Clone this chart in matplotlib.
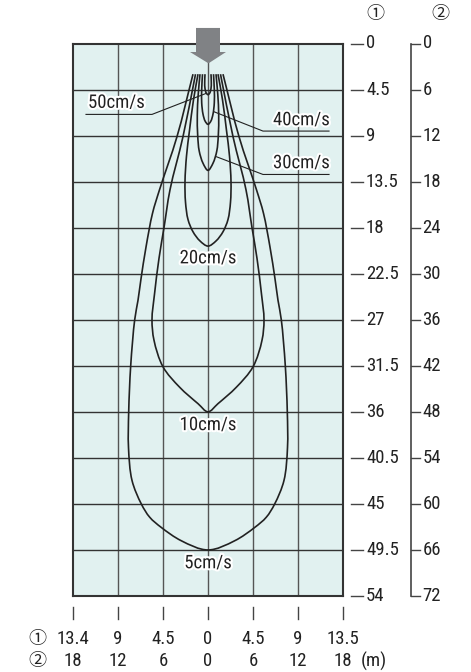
import numpy as np
import matplotlib
matplotlib.use('Agg')
import matplotlib.pyplot as plt
from matplotlib.path import Path
from matplotlib.patches import PathPatch, Polygon
import matplotlib.patheffects as pe

plt.rcParams['font.family'] = ['Roboto Condensed', 'Liberation Sans Narrow', 'Roboto', 'DejaVu Sans']

# Data (distance ① scale, metres): left half of each lobe as (half width, depth)
speeds = ['50cm/s', '40cm/s', '30cm/s', '20cm/s', '10cm/s', '5cm/s']
lobe_50 = [(0.3, 3.0), (0.33, 3.8), (0.3, 4.4), (0.17, 4.85), (0.0, 5.0)]
lobe_40 = [(0.55, 3.0), (0.63, 4.5), (0.63, 5.8), (0.5, 6.9), (0.28, 7.6), (0.0, 7.9)]
lobe_30 = [(0.8, 3.0), (0.98, 5.0), (1.07, 7.0), (1.03, 9.0), (0.88, 10.5), (0.5, 11.7), (0.0, 12.4)]
lobe_20 = [(1.0, 3.0), (1.45, 5.5), (1.85, 8.5), (2.15, 11.0), (2.3, 13.5), (2.25, 15.5),
           (2.0, 17.2), (1.5, 18.4), (0.8, 19.3), (0.0, 19.8)]
lobe_10 = [(1.25, 3.0), (2.5, 9.1), (3.8, 14.3), (4.4, 18.0), (4.9, 21.0), (5.35, 24.5),
           (5.6, 27.0), (5.4, 29.0), (4.5, 31.6), (2.83, 33.6), (1.0, 35.2), (0.0, 36.0)]
lobe_5 = [(1.5, 3.0), (3.1, 9.1), (4.85, 14.3), (5.55, 16.6), (6.2, 19.9), (6.7, 23.0),
          (7.0, 25.1), (7.33, 27.0), (7.73, 31.5), (7.93, 36.0), (7.95, 39.5), (7.6, 42.7),
          (6.67, 45.0), (5.83, 46.3), (4.67, 47.3), (2.67, 48.6), (0.0, 49.5)]
lobes = [lobe_50, lobe_40, lobe_30, lobe_20, lobe_10, lobe_5]

depth_1 = [0, 4.5, 9, 13.5, 18, 22.5, 27, 31.5, 36, 40.5, 45, 49.5, 54]
depth_1_labels = ['0', '4.5', '9', '13.5', '18', '22.5', '27', '31.5', '36', '40.5', '45', '49.5', '54']
depth_2_labels = ['0', '6', '12', '18', '24', '30', '36', '42', '48', '54', '60', '66', '72']
width_1 = [-13.5, -9, -4.5, 0, 4.5, 9, 13.5]
width_1_labels = ['13.4', '9', '4.5', '0', '4.5', '9', '13.5']
width_2_labels = ['18', '12', '6', '0', '6', '12', '18']

bg = '#e1f1f0'
ink = '#222222'
halo = [pe.withStroke(linewidth=3, foreground='white')]


def smoothPath(pts, a=0.5):
    # centripetal catmull-rom through the points, drawn as matplotlib cubic beziers
    pts = np.asarray(pts, float)
    ext = np.vstack([2 * pts[0] - pts[1], pts, 2 * pts[-1] - pts[-2]])
    verts = [pts[0]]
    codes = [Path.MOVETO]
    for i in range(1, len(ext) - 2):
        p0, p1, p2, p3 = ext[i - 1], ext[i], ext[i + 1], ext[i + 2]
        d1 = np.linalg.norm(p1 - p0) ** a
        d2 = np.linalg.norm(p2 - p1) ** a
        d3 = np.linalg.norm(p3 - p2) ** a
        b1 = (d1 ** 2 * p2 - d2 ** 2 * p0 + (2 * d1 ** 2 + 3 * d1 * d2 + d2 ** 2) * p1) / (3 * d1 * (d1 + d2))
        b2 = (d3 ** 2 * p1 - d2 ** 2 * p3 + (2 * d3 ** 2 + 3 * d3 * d2 + d2 ** 2) * p2) / (3 * d3 * (d3 + d2))
        verts += [b1, b2, p2]
        codes += [Path.CURVE4] * 3
    return Path(verts, codes)


fig = plt.figure(figsize=(4.71, 6.72), dpi=100)
ax = fig.add_axes([73 / 471, 1 - 596 / 672, 270 / 471, 552.5 / 672])
ax.set_xlim(-13.5, 13.5)
ax.set_ylim(54, 0)
ax.set_facecolor(bg)
ax.set_xticks([])
ax.set_yticks([])
for s in ax.spines.values():
    s.set_linewidth(1.5)
    s.set_color('#333333')

for x in width_1[1:-1]:
    ax.axvline(x, color='#555555', lw=1.0, zorder=1)
for y in depth_1[1:-1]:
    ax.axhline(y, color='#333333', lw=1.0, zorder=1)

for lobe in lobes:
    left = [(-w, d) for w, d in lobe]
    right = [(w, d) for w, d in lobe[::-1]][1:]
    ax.add_patch(PathPatch(smoothPath(left + right), fill=False, edgecolor=ink, lw=1.2, zorder=3))

# arrow on top of the sensor
arrow = Polygon([(-1.2, -1.52), (1.2, -1.52), (1.2, 0.83), (1.8, 0.83), (0.05, 1.94),
                 (-1.8, 0.83), (-1.2, 0.83)], closed=True, facecolor='#808285',
                edgecolor='none', clip_on=False, zorder=5)
ax.add_patch(arrow)

fs = 13.5
# leader labels
ax.plot([-12.2, -5.6, -0.25], [6.93, 6.93, 4.9], color=ink, lw=0.8, zorder=4)
ax.plot([12.1, 5.5, 0.6], [8.56, 8.56, 6.67], color=ink, lw=0.8, zorder=4)
ax.plot([12.1, 5.5, 0.85], [12.8, 12.8, 11.07], color=ink, lw=0.8, zorder=4)
ax.text(-12.0, 5.8, speeds[0], fontsize=fs, va='center', ha='left', color=ink, zorder=6, path_effects=halo)
ax.text(6.5, 7.5, speeds[1], fontsize=fs, va='center', ha='left', color=ink, zorder=6, path_effects=halo)
ax.text(6.5, 11.7, speeds[2], fontsize=fs, va='center', ha='left', color=ink, zorder=6, path_effects=halo)
ax.text(0, 21.0, speeds[3], fontsize=fs, va='center', ha='center', color=ink, zorder=6, path_effects=halo)
ax.text(0, 37.3, speeds[4], fontsize=fs, va='center', ha='center', color=ink, zorder=6, path_effects=halo)
ax.text(0, 50.8, speeds[5], fontsize=fs, va='center', ha='center', color=ink, zorder=6, path_effects=halo)

# right scales
tc = '#444444'
for d, l1, l2 in zip(depth_1, depth_1_labels, depth_2_labels):
    ax.plot([14.27, 15.47], [d, d], color=tc, lw=1.0, clip_on=False)
    ax.text(15.8, d, l1, fontsize=fs, va='center', ha='left', color=ink)
    ax.plot([20.27, 21.2], [d, d], color=tc, lw=1.0, clip_on=False)
    ax.text(21.45, d, l2, fontsize=fs, va='center', ha='left', color=ink)
ax.plot([20.27, 20.27], [0, 54], color=tc, lw=1.2, clip_on=False)
circ = ['Noto Sans CJK JP', 'DejaVu Sans']
ax.text(16.7, -2.9, '①', fontsize=13, ha='center', va='center', color=ink, family=circ)
ax.text(23.2, -2.9, '②', fontsize=13, ha='center', va='center', color=ink, family=circ)

# bottom scales
for x, l1, l2 in zip(width_1, width_1_labels, width_2_labels):
    ax.plot([x, x], [55.1, 56.2], color=tc, lw=1.0, clip_on=False)
    ax.text(x, 58.2, l1, fontsize=fs, ha='center', va='center', color=ink)
    ax.text(x, 60.4, l2, fontsize=fs, ha='center', va='center', color=ink)
ax.text(-17.1, 58.2, '①', fontsize=13, ha='center', va='center', color=ink, family=circ)
ax.text(-17.1, 60.4, '②', fontsize=13, ha='center', va='center', color=ink, family=circ)
ax.text(15.3, 60.4, '(m)', fontsize=fs, ha='left', va='center', color=ink)

fig.savefig('out.png', dpi=100)
